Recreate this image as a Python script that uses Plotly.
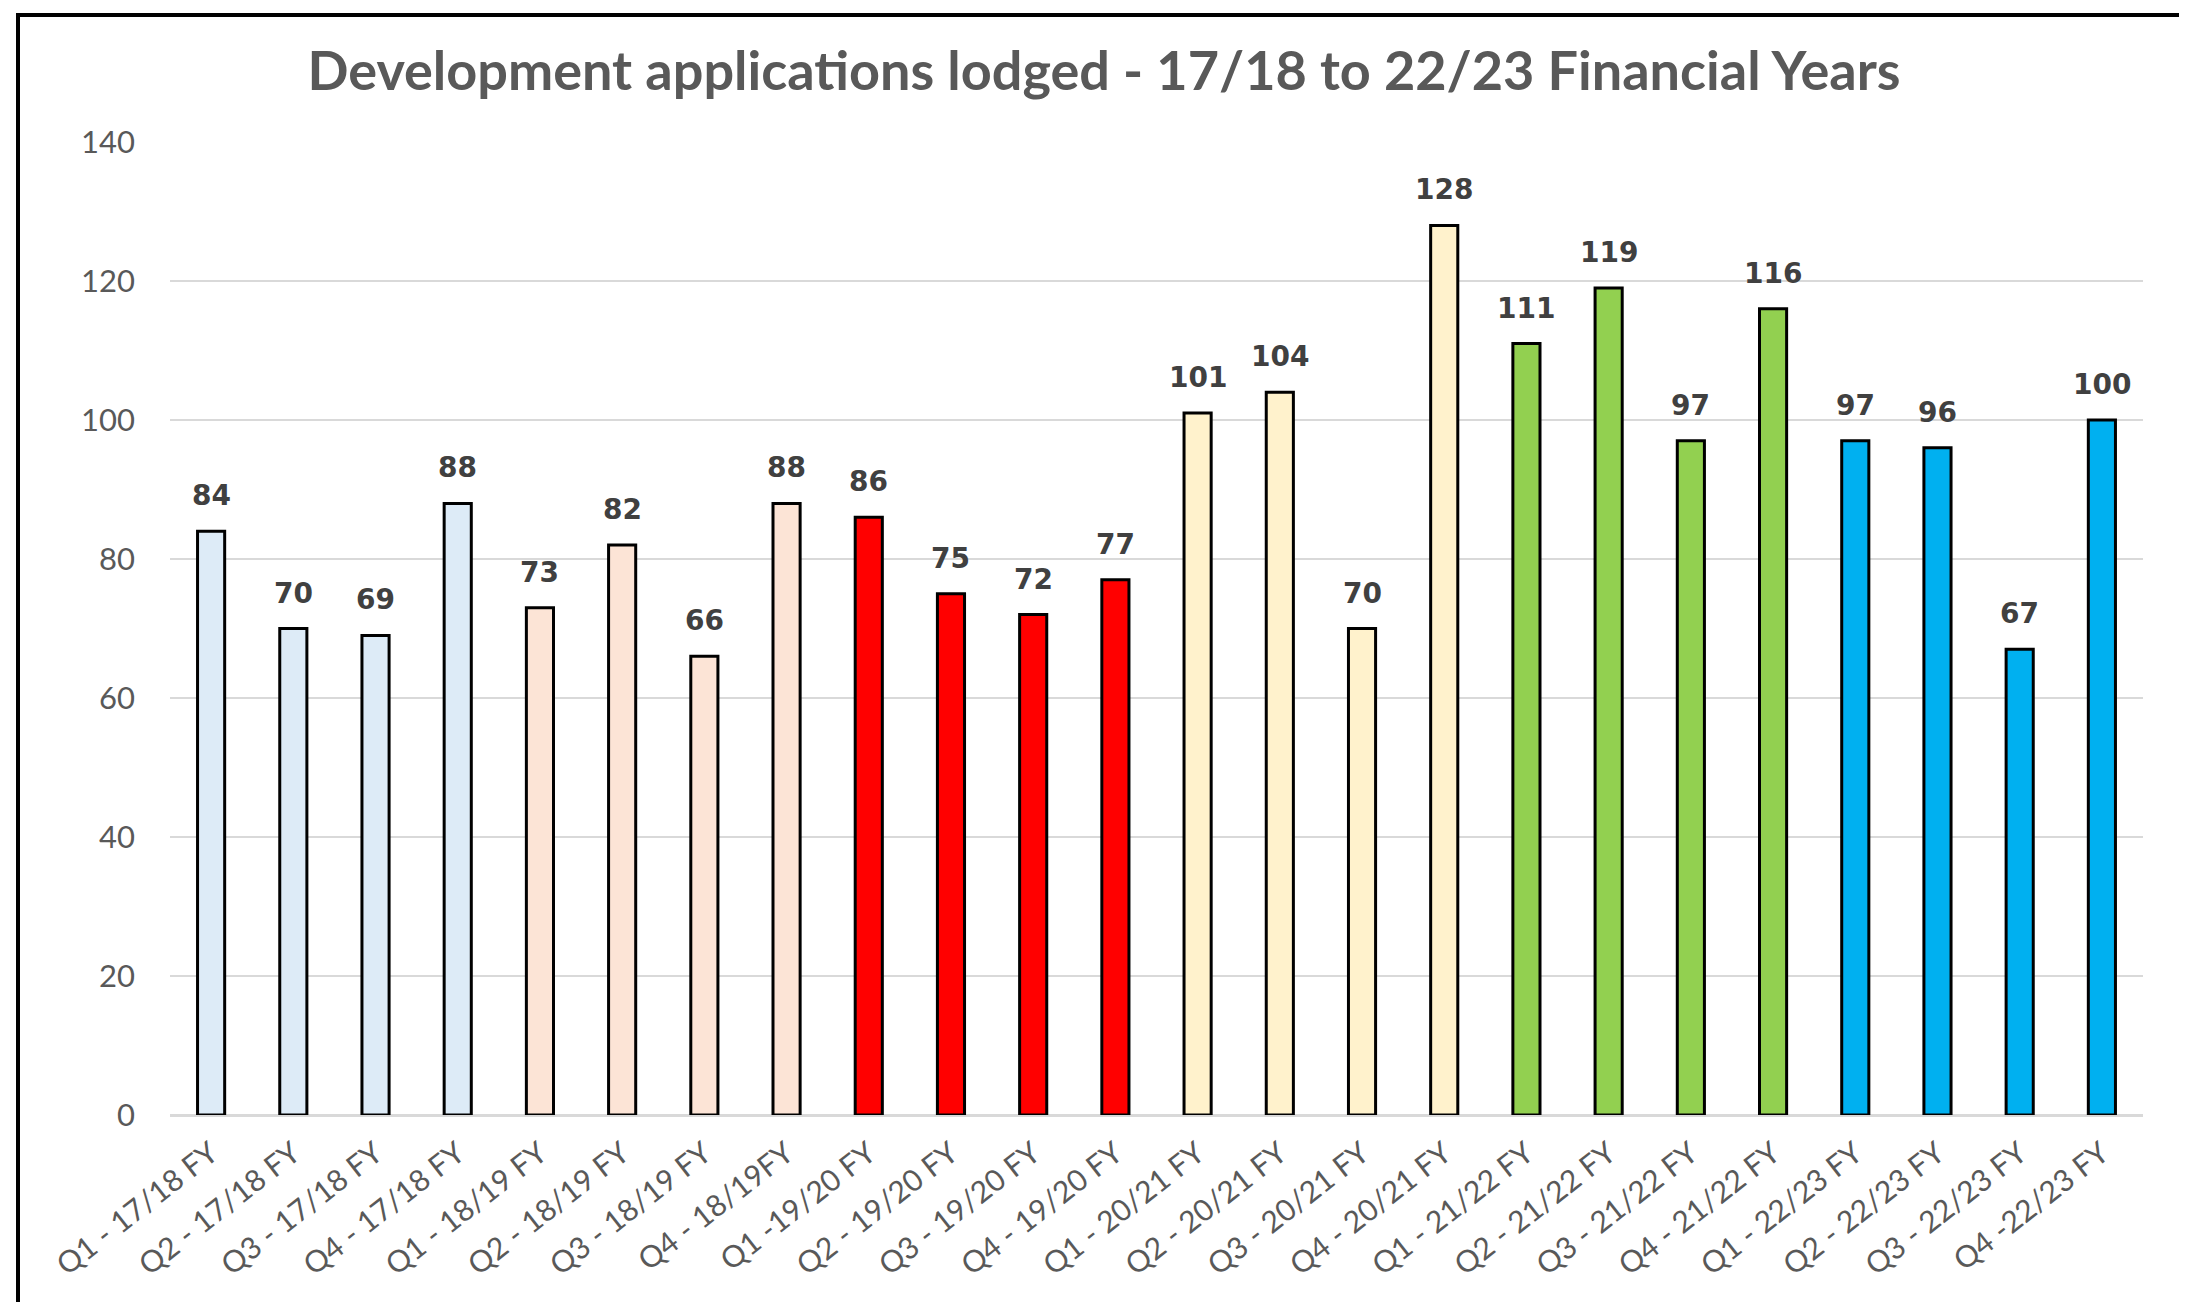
import plotly.graph_objects as go

categories = ["Q1 - 17/18 FY", "Q2 - 17/18 FY", "Q3 - 17/18 FY", "Q4 - 17/18 FY",
              "Q1 - 18/19 FY", "Q2 - 18/19 FY", "Q3 - 18/19 FY", "Q4 - 18/19FY",
              "Q1 -19/20 FY", "Q2 - 19/20 FY", "Q3 - 19/20 FY", "Q4 - 19/20 FY",
              "Q1 - 20/21 FY", "Q2 - 20/21 FY", "Q3 - 20/21 FY", "Q4 - 20/21 FY",
              "Q1 - 21/22 FY", "Q2 - 21/22 FY", "Q3 - 21/22 FY", "Q4 - 21/22 FY",
              "Q1 - 22/23 FY", "Q2 - 22/23 FY", "Q3 - 22/23 FY", "Q4 -22/23 FY"]
values = [84, 70, 69, 88, 73, 82, 66, 88, 86, 75, 72, 77,
          101, 104, 70, 128, 111, 119, 97, 116, 97, 96, 67, 100]
year_colors = ["#DDEBF7", "#FCE4D6", "#FF0000", "#FFF2CC", "#92D050", "#00B0F0"]
bar_colors = [year_colors[i // 4] for i in range(len(values))]
title_text = "Development applications lodged - 17/18 to 22/23 Financial Years"
y_ticks = [0, 20, 40, 60, 80, 100, 120, 140]

W, H = 2187, 1302
ML, MR, MT, MB = 162, 52, 134, 195
PW, PH = W - ML - MR, H - MT - MB

fig = go.Figure()
fig.add_trace(go.Bar(
    x=categories, y=values, width=0.33,
    marker=dict(color=bar_colors, line=dict(color="#000000", width=3)),
    hoverinfo="x+y",
))

for c, v in zip(categories, values):
    fig.add_annotation(x=c, y=v, text=str(v), showarrow=False,
                       xref="x", yref="y", yanchor="bottom", yshift=17,
                       font=dict(family="DejaVu Sans", size=28, color="#404040", weight="bold"))

def px_x(p):
    return (p - ML) / PW

def px_y(p):
    return (H - MB - p) / PH

fig.add_shape(type="rect", xref="paper", yref="paper",
              x0=px_x(10), x1=px_x(2182), y0=px_y(1320), y1=px_y(7),
              line=dict(color="#000000", width=4), fillcolor="rgba(0,0,0,0)", layer="above")

fig.update_layout(
    width=W, height=H,
    margin=dict(l=ML, r=MR, t=MT, b=MB, pad=0, autoexpand=False),
    paper_bgcolor="#FFFFFF", plot_bgcolor="#FFFFFF",
    showlegend=False,
    title=dict(text=title_text, x=1096 / W, xanchor="center", y=1 - 63 / H, yanchor="middle",
               font=dict(family="Lato", size=54, color="#595959", weight="bold")),
    xaxis=dict(type="category", tickangle=-38, showgrid=False, showline=False, ticks="",
               tickfont=dict(family="Lato", size=30, color="#595959"), automargin=False,
               ticklabelstandoff=14, range=[-0.5, 23.5]),
    yaxis=dict(range=[0, 140], tickvals=y_ticks, showgrid=True, gridcolor="#D9D9D9", gridwidth=2,
               zeroline=True, zerolinecolor="#D9D9D9", zerolinewidth=3, showline=False, ticks="",
               automargin=False,
               tickfont=dict(family="Lato", size=31, color="#595959"), ticklabelstandoff=34),
)

fig.write_html("out.html")
